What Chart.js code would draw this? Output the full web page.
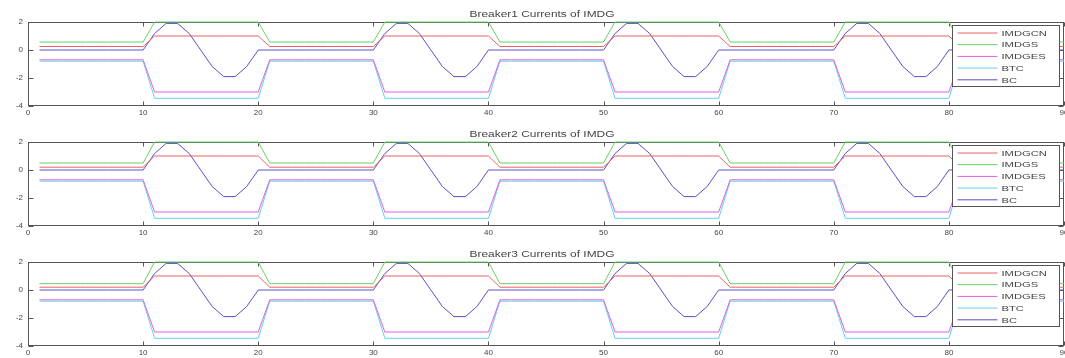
<!DOCTYPE html>
<html><head><meta charset="utf-8">
<script src="https://cdn.jsdelivr.net/npm/chart.js@4/dist/chart.umd.min.js"></script>
<style>
html,body{margin:0;padding:0;background:#fff;overflow:hidden;width:1065px;height:358px;position:relative;}
.panel{position:absolute;left:0;width:1080px;height:120px;}
canvas{display:block;}
</style></head><body>
<div class="panel" style="top:0"><canvas id="c1" width="1080" height="120"></canvas></div>
<div class="panel" style="top:120px"><canvas id="c2" width="1080" height="120"></canvas></div>
<div class="panel" style="top:240px"><canvas id="c3" width="1080" height="120"></canvas></div>
<script>
// ---- data ----
const time = [1,2,3,4,5,6,7,8,9,10,11,12,13,14,15,16,17,18,19,20,21,22,23,24,25,26,27,28,29,30,
31,32,33,34,35,36,37,38,39,40,41,42,43,44,45,46,47,48,49,50,51,52,53,54,55,56,57,58,59,60,
61,62,63,64,65,66,67,68,69,70,71,72,73,74,75,76,77,78,79,80,81,82,83,84,85,86,87,88,89,90];

const seriesLabels = ['IMDGCN','IMDGS','IMDGES','BTC','BC'];
const panelTitles = ['Breaker1 Currents of IMDG','Breaker2 Currents of IMDG','Breaker3 Currents of IMDG'];
const xTickValues = [0,10,20,30,40,50,60,70,80,90];
const yTickValues = [-4,-2,0,2];

// Breaker 1
const imdgcn1 = [0.25,0.25,0.25,0.25,0.25,0.25,0.25,0.25,0.25,0.25, 1,1,1,1,1,1,1,1,1,1,
0.25,0.25,0.25,0.25,0.25,0.25,0.25,0.25,0.25,0.25, 1,1,1,1,1,1,1,1,1,1,
0.25,0.25,0.25,0.25,0.25,0.25,0.25,0.25,0.25,0.25, 1,1,1,1,1,1,1,1,1,1,
0.25,0.25,0.25,0.25,0.25,0.25,0.25,0.25,0.25,0.25, 1,1,1,1,1,1,1,1,1,1,
0.25,0.25,0.25,0.25,0.25,0.25,0.25,0.25,0.25,0.25];
const imdgs1 = [0.57,0.57,0.57,0.57,0.57,0.57,0.57,0.57,0.57,0.57, 2,2,2,2,2,2,2,2,2,2,
0.57,0.57,0.57,0.57,0.57,0.57,0.57,0.57,0.57,0.57, 2,2,2,2,2,2,2,2,2,2,
0.57,0.57,0.57,0.57,0.57,0.57,0.57,0.57,0.57,0.57, 2,2,2,2,2,2,2,2,2,2,
0.57,0.57,0.57,0.57,0.57,0.57,0.57,0.57,0.57,0.57, 2,2,2,2,2,2,2,2,2,2,
0.57,0.57,0.57,0.57,0.57,0.57,0.57,0.57,0.57,0.57];
// Breaker 2
const imdgcn2 = [0.2,0.2,0.2,0.2,0.2,0.2,0.2,0.2,0.2,0.2, 1,1,1,1,1,1,1,1,1,1,
0.2,0.2,0.2,0.2,0.2,0.2,0.2,0.2,0.2,0.2, 1,1,1,1,1,1,1,1,1,1,
0.2,0.2,0.2,0.2,0.2,0.2,0.2,0.2,0.2,0.2, 1,1,1,1,1,1,1,1,1,1,
0.2,0.2,0.2,0.2,0.2,0.2,0.2,0.2,0.2,0.2, 1,1,1,1,1,1,1,1,1,1,
0.2,0.2,0.2,0.2,0.2,0.2,0.2,0.2,0.2,0.2];
const imdgs2 = [0.5,0.5,0.5,0.5,0.5,0.5,0.5,0.5,0.5,0.5, 2,2,2,2,2,2,2,2,2,2,
0.5,0.5,0.5,0.5,0.5,0.5,0.5,0.5,0.5,0.5, 2,2,2,2,2,2,2,2,2,2,
0.5,0.5,0.5,0.5,0.5,0.5,0.5,0.5,0.5,0.5, 2,2,2,2,2,2,2,2,2,2,
0.5,0.5,0.5,0.5,0.5,0.5,0.5,0.5,0.5,0.5, 2,2,2,2,2,2,2,2,2,2,
0.5,0.5,0.5,0.5,0.5,0.5,0.5,0.5,0.5,0.5];
// Breaker 3
const imdgcn3 = [0.2,0.2,0.2,0.2,0.2,0.2,0.2,0.2,0.2,0.2, 1,1,1,1,1,1,1,1,1,1,
0.2,0.2,0.2,0.2,0.2,0.2,0.2,0.2,0.2,0.2, 1,1,1,1,1,1,1,1,1,1,
0.2,0.2,0.2,0.2,0.2,0.2,0.2,0.2,0.2,0.2, 1,1,1,1,1,1,1,1,1,1,
0.2,0.2,0.2,0.2,0.2,0.2,0.2,0.2,0.2,0.2, 1,1,1,1,1,1,1,1,1,1,
0.2,0.2,0.2,0.2,0.2,0.2,0.2,0.2,0.2,0.2];
const imdgs3 = [0.45,0.45,0.45,0.45,0.45,0.45,0.45,0.45,0.45,0.45, 2,2,2,2,2,2,2,2,2,2,
0.45,0.45,0.45,0.45,0.45,0.45,0.45,0.45,0.45,0.45, 2,2,2,2,2,2,2,2,2,2,
0.45,0.45,0.45,0.45,0.45,0.45,0.45,0.45,0.45,0.45, 2,2,2,2,2,2,2,2,2,2,
0.45,0.45,0.45,0.45,0.45,0.45,0.45,0.45,0.45,0.45, 2,2,2,2,2,2,2,2,2,2,
0.45,0.45,0.45,0.45,0.45,0.45,0.45,0.45,0.45,0.45];
// shared by all breakers
const imdges = [-0.7,-0.7,-0.7,-0.7,-0.7,-0.7,-0.7,-0.7,-0.7,-0.7, -3,-3,-3,-3,-3,-3,-3,-3,-3,-3,
-0.7,-0.7,-0.7,-0.7,-0.7,-0.7,-0.7,-0.7,-0.7,-0.7, -3,-3,-3,-3,-3,-3,-3,-3,-3,-3,
-0.7,-0.7,-0.7,-0.7,-0.7,-0.7,-0.7,-0.7,-0.7,-0.7, -3,-3,-3,-3,-3,-3,-3,-3,-3,-3,
-0.7,-0.7,-0.7,-0.7,-0.7,-0.7,-0.7,-0.7,-0.7,-0.7, -3,-3,-3,-3,-3,-3,-3,-3,-3,-3,
-0.7,-0.7,-0.7,-0.7,-0.7,-0.7,-0.7,-0.7,-0.7,-0.7];
const btc = [-0.8,-0.8,-0.8,-0.8,-0.8,-0.8,-0.8,-0.8,-0.8,-0.8, -3.45,-3.45,-3.45,-3.45,-3.45,-3.45,-3.45,-3.45,-3.45,-3.45,
-0.8,-0.8,-0.8,-0.8,-0.8,-0.8,-0.8,-0.8,-0.8,-0.8, -3.45,-3.45,-3.45,-3.45,-3.45,-3.45,-3.45,-3.45,-3.45,-3.45,
-0.8,-0.8,-0.8,-0.8,-0.8,-0.8,-0.8,-0.8,-0.8,-0.8, -3.45,-3.45,-3.45,-3.45,-3.45,-3.45,-3.45,-3.45,-3.45,-3.45,
-0.8,-0.8,-0.8,-0.8,-0.8,-0.8,-0.8,-0.8,-0.8,-0.8, -3.45,-3.45,-3.45,-3.45,-3.45,-3.45,-3.45,-3.45,-3.45,-3.45,
-0.8,-0.8,-0.8,-0.8,-0.8,-0.8,-0.8,-0.8,-0.8,-0.8];
const bc = [0,0,0,0,0,0,0,0,0,0, 1.18,1.9,1.9,1.18,0,-1.18,-1.9,-1.9,-1.18,0,
0,0,0,0,0,0,0,0,0,0, 1.18,1.9,1.9,1.18,0,-1.18,-1.9,-1.9,-1.18,0,
0,0,0,0,0,0,0,0,0,0, 1.18,1.9,1.9,1.18,0,-1.18,-1.9,-1.9,-1.18,0,
0,0,0,0,0,0,0,0,0,0, 1.18,1.9,1.9,1.18,0,-1.18,-1.9,-1.9,-1.18,0,
0,0,0,0,0,0,0,0,0,0];

const seriesColors = ['rgb(236,96,96)','rgb(100,210,100)','rgb(222,96,222)','rgb(96,212,232)','rgb(88,80,196)'];
const FONT = '"Liberation Sans", Arial, sans-serif';
const TEXT = '#444';
const STRETCH = 1.4;

const panels = [
  {id:'c1', title:panelTitles[0], series:[imdgcn1, imdgs1, imdges, btc, bc]},
  {id:'c2', title:panelTitles[1], series:[imdgcn2, imdgs2, imdges, btc, bc]},
  {id:'c3', title:panelTitles[2], series:[imdgcn3, imdgs3, imdges, btc, bc]}
];

const framePlugin = {
  id:'frame',
  beforeDatasetsDraw(chart){
    const {ctx, chartArea:a, scales:{x,y}} = chart;
    const L=Math.round(a.left)+0.5, R=Math.round(a.right)-0.5, T=Math.round(a.top)+0.5, B=Math.round(a.bottom)-0.5;
    ctx.save();
    ctx.strokeStyle='#555'; ctx.lineWidth=1;
    ctx.strokeRect(L,T,R-L,B-T);
    ctx.beginPath();
    xTickValues.forEach(v=>{
      const px=Math.round(x.getPixelForValue(v))+0.5;
      ctx.moveTo(px,T); ctx.lineTo(px,T+4);
      ctx.moveTo(px,B); ctx.lineTo(px,B-4);
    });
    yTickValues.forEach(v=>{
      const py=Math.round(y.getPixelForValue(v))+0.5;
      ctx.moveTo(L,py); ctx.lineTo(L+5,py);
      ctx.moveTo(R,py); ctx.lineTo(R-5,py);
    });
    ctx.stroke();
    ctx.restore();
  }
};

const textPlugin = {
  id:'texts',
  afterDraw(chart){
    const {ctx, chartArea:a} = chart;
    ctx.save();
    // title
    ctx.fillStyle=TEXT;
    ctx.font='8.5px '+FONT;
    ctx.textAlign='center'; ctx.textBaseline='alphabetic';
    ctx.save();
    ctx.translate((a.left+a.right)/2 - 4, a.top-5);
    ctx.scale(STRETCH,1);
    ctx.fillText(chart.options.plugins.title.text,0,0);
    ctx.restore();
    // legend
    const right=Math.round(a.right)-4.5, left=right-107, top=Math.round(a.top)+3.5, bottom=top+61;
    ctx.fillStyle='#fff';
    ctx.fillRect(left,top,right-left,bottom-top);
    ctx.strokeStyle='#555'; ctx.lineWidth=1;
    ctx.strokeRect(left,top,right-left,bottom-top);
    chart.data.datasets.forEach((ds,i)=>{
      const yy=top+7.5+i*11.7;
      ctx.strokeStyle=ds.borderColor; ctx.lineWidth=1;
      ctx.beginPath(); ctx.moveTo(left+5,yy); ctx.lineTo(left+45,yy); ctx.stroke();
      ctx.save();
      ctx.fillStyle=TEXT; ctx.font='8px '+FONT; ctx.textAlign='left'; ctx.textBaseline='middle';
      ctx.translate(left+49,yy+0.5); ctx.scale(STRETCH,1);
      ctx.fillText(ds.label,0,0);
      ctx.restore();
    });
    ctx.restore();
  }
};

panels.forEach(p=>{
  const datasets = seriesLabels.map((lab,i)=>({
    label:lab,
    data: time.map((t,k)=>({x:t, y:p.series[i][k]})),
    borderColor: seriesColors[i],
    backgroundColor: seriesColors[i],
    borderWidth:1, pointRadius:0, tension:0, fill:false, clip:3
  }));
  new Chart(document.getElementById(p.id), {
    type:'line',
    data:{datasets},
    options:{
      responsive:false, animation:false, devicePixelRatio:1,
      layout:{padding:{top:22, right:16, left:0, bottom:0}},
      plugins:{legend:{display:false}, title:{display:false, text:p.title}, tooltip:{enabled:false}},
      scales:{
        x:{type:'linear', min:0, max:90,
          afterBuildTicks(s){ s.ticks = xTickValues.map(v=>({value:v})); },
          afterFit(s){ s.height=14; },
          grid:{display:false, drawTicks:false}, border:{display:false},
          ticks:{font:{family:FONT, size:8}, color:TEXT, padding:2, maxRotation:0, autoSkip:false}
        },
        y:{type:'linear', min:-4, max:2,
          afterBuildTicks(s){ s.ticks = yTickValues.map(v=>({value:v})); },
          afterFit(s){ s.width=28; },
          grid:{display:false, drawTicks:false}, border:{display:false},
          ticks:{font:{family:FONT, size:8}, color:TEXT, padding:5}
        }
      }
    },
    plugins:[framePlugin, textPlugin]
  });
});
</script>
</body></html>
